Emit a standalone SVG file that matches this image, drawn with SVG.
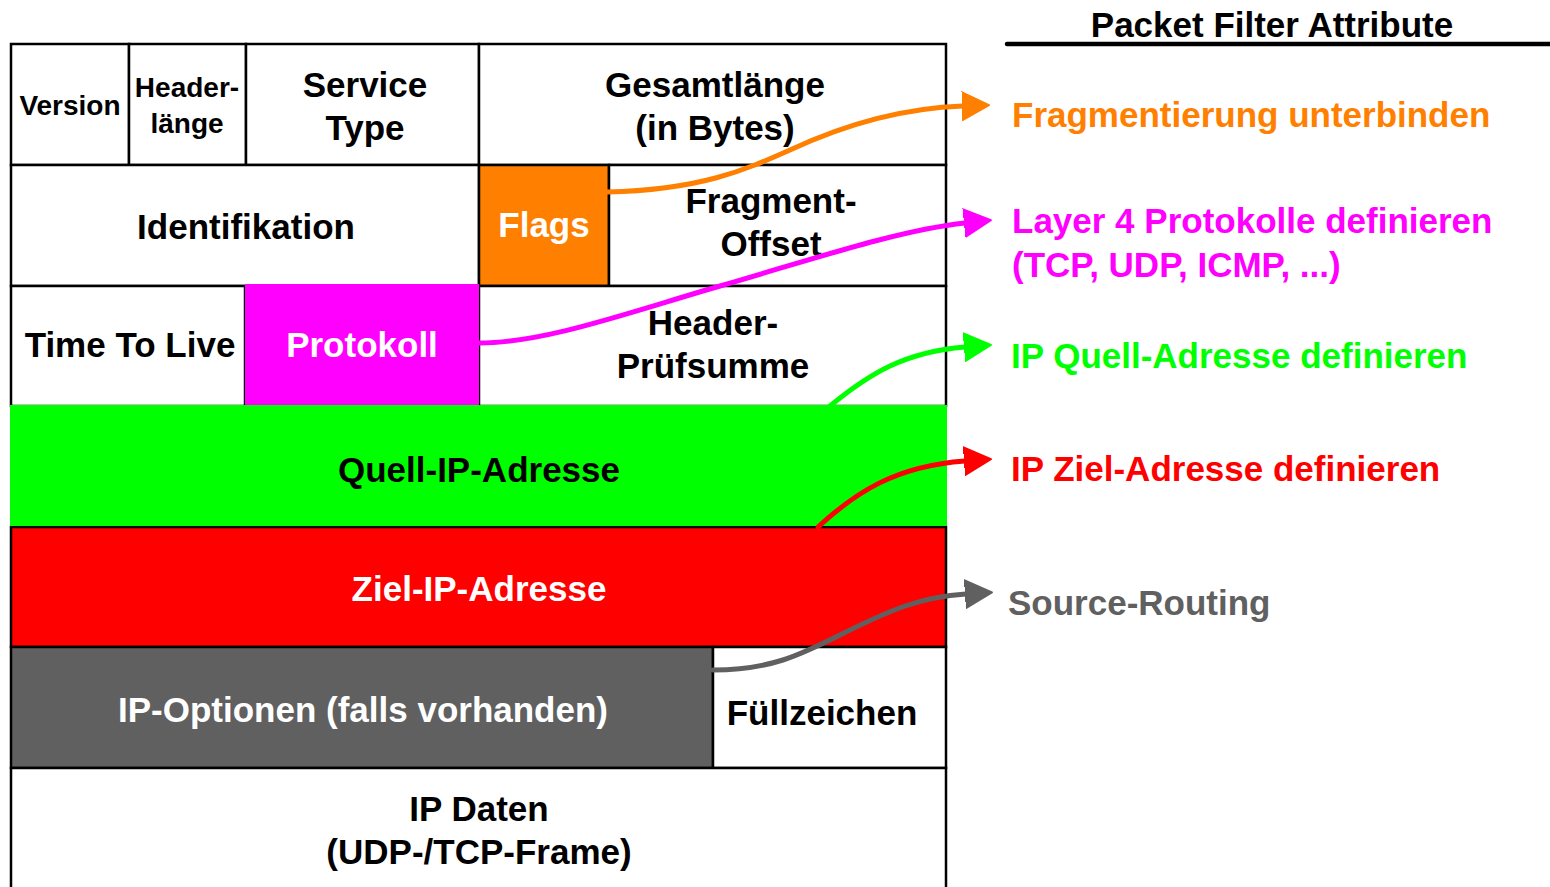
<svg xmlns="http://www.w3.org/2000/svg" width="1550" height="887" viewBox="0 0 1550 887">
<style>
text{font-family:"Liberation Sans",Arial,sans-serif;font-weight:bold;text-anchor:middle;fill:#000}
.cell{stroke:#000;stroke-width:2.5;fill:#fff}
.big{font-size:35px}
.small{font-size:28px}
.lbl{font-size:35px;text-anchor:start}
.w{fill:#fff}
.arr{fill:none;stroke-width:5;stroke-linecap:round}
</style>
<defs>
<marker id="mo" markerUnits="userSpaceOnUse" markerWidth="30" markerHeight="32" viewBox="0 -16 30 32" refX="1" refY="0" orient="auto"><path d="M0,-14 L27,0 L0,14 Z" fill="#FF8000" stroke="#FF8000" stroke-width="2" stroke-linejoin="round"/></marker>
<marker id="mm" markerUnits="userSpaceOnUse" markerWidth="30" markerHeight="32" viewBox="0 -16 30 32" refX="1" refY="0" orient="auto"><path d="M0,-14 L27,0 L0,14 Z" fill="#FF00FF" stroke="#FF00FF" stroke-width="2" stroke-linejoin="round"/></marker>
<marker id="mg" markerUnits="userSpaceOnUse" markerWidth="30" markerHeight="32" viewBox="0 -16 30 32" refX="1" refY="0" orient="auto"><path d="M0,-14 L27,0 L0,14 Z" fill="#00FF00" stroke="#00FF00" stroke-width="2" stroke-linejoin="round"/></marker>
<marker id="mr" markerUnits="userSpaceOnUse" markerWidth="30" markerHeight="32" viewBox="0 -16 30 32" refX="1" refY="0" orient="auto"><path d="M0,-14 L27,0 L0,14 Z" fill="#FF0000" stroke="#FF0000" stroke-width="2" stroke-linejoin="round"/></marker>
<marker id="my" markerUnits="userSpaceOnUse" markerWidth="30" markerHeight="32" viewBox="0 -16 30 32" refX="1" refY="0" orient="auto"><path d="M0,-14 L27,0 L0,14 Z" fill="#606060" stroke="#606060" stroke-width="2" stroke-linejoin="round"/></marker>
</defs>
<rect width="1550" height="887" fill="#fff"/>

<g id="n-version"><rect class="cell" x="11" y="44" width="118" height="121"/><text class="small" x="70" y="115">Version</text></g>
<g id="n-headerlaenge"><rect class="cell" x="129" y="44" width="117" height="121"/><text class="small" x="187" y="97">Header-</text><text class="small" x="187" y="133">länge</text></g>
<g id="n-service"><rect class="cell" x="246" y="44" width="233" height="121"/><text class="big" x="365" y="97">Service</text><text class="big" x="365" y="140">Type</text></g>
<g id="n-gesamt"><rect class="cell" x="479" y="44" width="467" height="121"/><text class="big" x="715" y="97">Gesamtlänge</text><text class="big" x="715" y="140">(in Bytes)</text></g>

<g id="n-ident"><rect class="cell" x="11" y="165" width="468" height="121"/><text class="big" x="246" y="239">Identifikation</text></g>
<g id="n-flags"><rect class="cell" x="479" y="165" width="130" height="121" style="fill:#FF8000"/><text class="big w" x="544" y="237">Flags</text></g>
<g id="n-fragoffset"><rect class="cell" x="609" y="165" width="337" height="121"/><text class="big" x="771" y="213">Fragment-</text><text class="big" x="771" y="256">Offset</text></g>

<g id="n-ttl"><rect class="cell" x="11" y="286" width="234" height="120"/><text class="big" x="130" y="357">Time To Live</text></g>
<g id="n-pruef"><rect class="cell" x="479" y="286" width="467" height="120"/><text class="big" x="713" y="335">Header-</text><text class="big" x="713" y="378">Prüfsumme</text></g>
<g id="n-protokoll"><rect x="245" y="284" width="234" height="122" fill="#FF00FF"/><text class="big w" x="362" y="357">Protokoll</text></g>

<g id="n-ziel"><rect class="cell" x="11" y="527" width="935" height="120" style="fill:#FF0000"/><text class="big w" x="479" y="601">Ziel-IP-Adresse</text></g>
<g id="n-quell"><rect x="10" y="405" width="937" height="121" fill="#00FF00"/><text class="big" x="479" y="482">Quell-IP-Adresse</text></g>

<g id="n-optionen"><rect class="cell" x="11" y="647" width="702" height="121" style="fill:#606060"/><text class="big w" x="363" y="722">IP-Optionen (falls vorhanden)</text></g>
<g id="n-fuell"><rect class="cell" x="713" y="647" width="233" height="121"/><text class="big" x="822" y="725">Füllzeichen</text></g>

<g id="n-daten"><rect class="cell" x="11" y="768" width="935" height="125"/><text class="big" x="479" y="821">IP Daten</text><text class="big" x="479" y="864">(UDP-/TCP-Frame)</text></g>

<g id="n-title"><text class="big" x="1272" y="37">Packet Filter Attribute</text><line x1="1007" y1="44" x2="1550" y2="44" stroke="#000" stroke-width="4.5" stroke-linecap="round"/></g>

<g id="n-l-frag"><text class="lbl" x="1012" y="127" style="fill:#FF8000">Fragmentierung unterbinden</text></g>
<g id="n-l-layer4"><text class="lbl" x="1012" y="233" style="fill:#FF00FF">Layer 4 Protokolle definieren</text><text class="lbl" x="1012" y="277" style="fill:#FF00FF">(TCP, UDP, ICMP, ...)</text></g>
<g id="n-l-quell"><text class="lbl" x="1011" y="368" style="fill:#00FF00">IP Quell-Adresse definieren</text></g>
<g id="n-l-ziel"><text class="lbl" x="1011" y="481" style="fill:#FF0000">IP Ziel-Adresse definieren</text></g>
<g id="n-l-source"><text class="lbl" x="1008" y="615" style="fill:#606060">Source-Routing</text></g>

<g id="connectors">
<path class="arr" stroke="#FF8000" marker-end="url(#mo)" d="M607,192 C 700,190 745,170 790,150 C 850,122 905,108 963,106"/>
<path class="arr" stroke="#FF00FF" marker-end="url(#mm)" d="M479,343 C 545,343 630,312 720,286 C 820,257 900,230 965,223"/>
<path class="arr" stroke="#00FF00" marker-end="url(#mg)" d="M830,406 C 870,373 905,352 965,347"/>
<path class="arr" stroke="#FF0000" marker-end="url(#mr)" d="M818,527 C 855,493 895,466 965,461"/>
<path class="arr" stroke="#606060" marker-end="url(#my)" d="M713,670 C 770,670 800,655 840,635 C 890,610 920,597 966,594"/>
</g>
</svg>
